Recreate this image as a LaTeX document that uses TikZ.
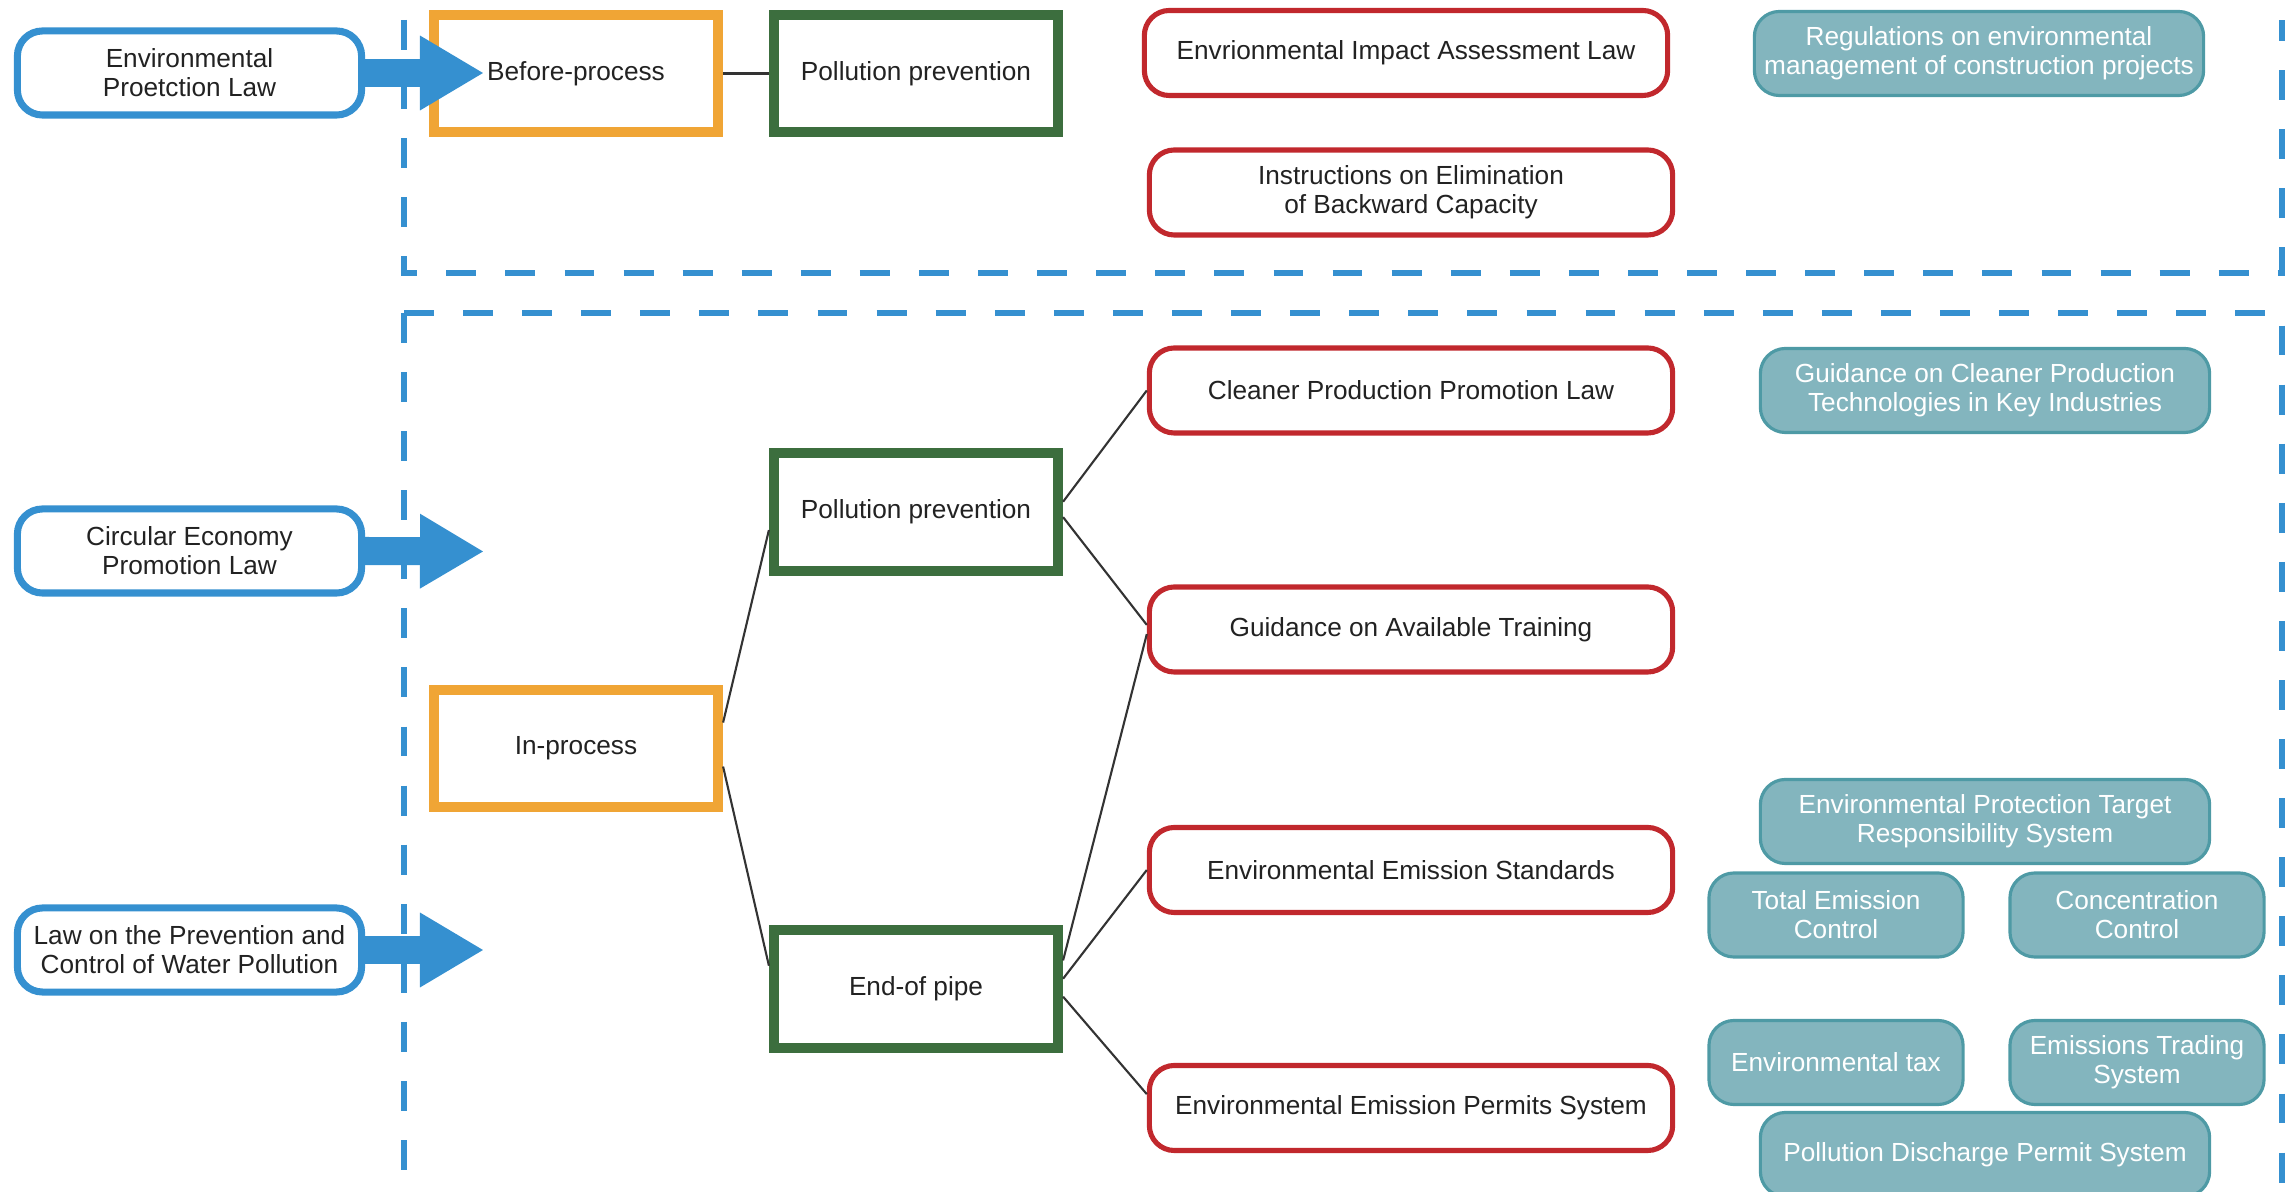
\documentclass[tikz,border=0pt]{standalone}
\usepackage{fontspec}
\setmainfont{Liberation Sans}
\usepackage{tikz}
\usetikzlibrary{arrows.meta,positioning,calc}
\definecolor{lawblue}{HTML}{3590D0}
\definecolor{stageor}{HTML}{F0A535}
\definecolor{measgreen}{HTML}{3C6E3E}
\definecolor{regred}{HTML}{C1282D}
\definecolor{toolfill}{HTML}{83B5BE}
\definecolor{toolline}{HTML}{4E9AA5}
\definecolor{linkgray}{HTML}{333333}
\definecolor{txt}{HTML}{222222}
\newcommand{\fsz}{\fontsize{7.45}{8.3}\selectfont}
\tikzset{
  lnode/.style={rectangle,rounded corners=0.25cm,draw=lawblue,line width=2pt,fill=white,minimum width=3.44cm,minimum height=0.84cm,inner sep=1pt,align=center,font=\fsz,text=txt},
  snode/.style={rectangle,draw=stageor,line width=2.85pt,fill=white,minimum width=2.84cm,minimum height=1.17cm,inner sep=1pt,font=\fsz,text=txt},
  mnode/.style={snode,draw=measgreen},
  rnode/.style={rectangle,rounded corners=0.25cm,draw=regred,line width=1.45pt,fill=white,minimum width=5.23cm,minimum height=0.85cm,inner sep=1pt,align=center,font=\fsz,text=txt},
  tnode/.style={rectangle,rounded corners=0.25cm,draw=toolline,line width=0.9pt,fill=toolfill,minimum width=4.49cm,minimum height=0.84cm,inner sep=1pt,align=center,font=\fsz,text=white},
  tsnode/.style={tnode,minimum width=2.54cm},
  ce/.style={draw=linkgray,line width=0.6pt},
  be/.style={-{Triangle[length=0.64cm,width=0.70cm]},draw=lawblue,line width=0.28cm},
  fe/.style={draw=lawblue,line width=1.7pt,dash pattern=on 8.5pt off 8.3pt}
}

\begin{document}
\begin{tikzpicture}[x=0.01cm,y=-0.01cm]
\useasboundingbox (0,0) rectangle (2287,1192);
% stage frames
\draw[fe] (404,20) -- (404,273) -- (2282,273) -- (2282,20);
\draw[fe] (404,313) -- (404,1192);
\draw[fe] (404,313) -- (2282,313) -- (2282,1192);
% laws
\node[lnode] (EPL)  at (189.5,73)  {Environmental\\Proetction Law};
\node[lnode] (CEPL) at (189.5,551) {Circular Economy\\Promotion Law};
\node[lnode] (WPL)  at (189.5,950) {Law on the Prevention and\\Control of Water Pollution};
% stages
\node[snode] (BP)  at (576,73.5)  {Before-process};
\node[mnode] (PP1) at (916,73.5)  {Pollution prevention};
\node[snode] (IP)  at (576,748.5) {In-process};
\node[mnode] (PP2) at (916,512)   {Pollution prevention};
\node[mnode] (EOP) at (916,989)   {End-of pipe};
% regulations
\node[rnode] (EIA) at (1406,53)    {Envrionmental Impact Assessment Law};
\node[rnode] (IEB) at (1411,192.5) {Instructions on Elimination\\of Backward Capacity};
\node[rnode] (CPP) at (1411,390.5) {Cleaner Production Promotion Law};
\node[rnode] (GAT) at (1411,629.5) {Guidance on Available Training};
\node[rnode] (EES) at (1411,870)   {Environmental Emission Standards};
\node[rnode] (EPS) at (1411,1108)  {Environmental Emission Permits System};
% tools
\node[tnode]  (RCP) at (1979,53.5)   {Regulations on environmental\\management of construction projects};
\node[tnode]  (GCP) at (1985,390.5)  {Guidance on Cleaner Production\\Technologies in Key Industries};
\node[tnode]  (EPT) at (1985,821.5)  {Environmental Protection Target\\Responsibility System};
\node[tsnode] (TEC) at (1836,915)    {Total Emission\\Control};
\node[tsnode] (CC)  at (2137,915)    {Concentration\\Control};
\node[tsnode] (ET)  at (1836,1062.5) {Environmental tax};
\node[tsnode] (ETS) at (2137,1062.5) {Emissions Trading\\System};
\node[tnode]  (PDP) at (1985,1154.5) {Pollution Discharge Permit System};
% arrows
\coordinate (T1) at (484,73);
\coordinate (T2) at (484,551.5);
\coordinate (T3) at (484,950);
\draw[be] (EPL.east) -- (T1);
\draw[be] (CEPL.east) -- (T2);
\draw[be] (WPL.east) -- (T3);
% links
\draw[ce] (BP) -- (PP1);
\draw[ce] (IP.10) -- (PP2.187); \draw[ce] (IP.-7) -- (EOP.171);
\draw[ce] (PP2.4) -- (CPP.west); \draw[ce] (PP2.-2) -- (GAT.179);
\draw[ce] (EOP.11) -- (GAT.181); \draw[ce] (EOP.4) -- (EES.west);
\draw[ce] (EOP.-3) -- (EPS.177);
\end{tikzpicture}
\end{document}
